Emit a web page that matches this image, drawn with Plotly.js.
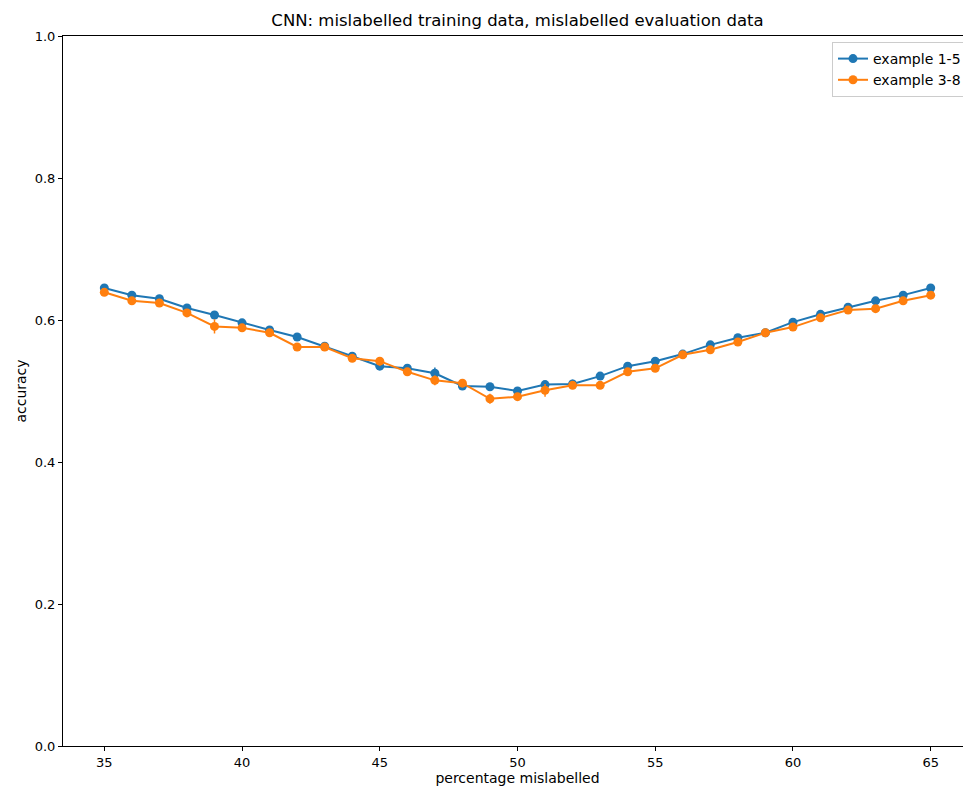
<!DOCTYPE html>
<html>
<head>
<meta charset="utf-8">
<script src="https://cdn.plot.ly/plotly-3.0.1.min.js"></script>
<style>
html,body{margin:0;padding:0;overflow:hidden;background:#fff;width:963px;height:787px;}
#chart{width:1010px;height:787px;}
</style>
</head>
<body>
<div id="chart"></div>
<script>
const xValues = [35,36,37,38,39,40,41,42,43,44,45,46,47,48,49,50,51,52,53,54,55,56,57,58,59,60,61,62,63,64,65];
const blueValues = [0.645,0.635,0.630,0.617,0.607,0.596,0.586,0.576,0.563,0.549,0.535,0.532,0.525,0.507,0.506,0.500,0.509,0.510,0.521,0.535,0.542,0.552,0.565,0.575,0.582,0.597,0.608,0.618,0.627,0.635,0.645];
const blueErrors = [0.003,0.002,0.002,0.002,0.003,0.002,0.002,0.002,0.002,0.002,0.003,0.003,0.008,0.002,0.002,0.002,0.003,0.006,0.003,0.002,0.002,0.003,0.002,0.002,0.002,0.002,0.002,0.002,0.002,0.002,0.002];
const orangeValues = [0.639,0.627,0.624,0.610,0.591,0.589,0.582,0.562,0.562,0.546,0.542,0.527,0.515,0.511,0.489,0.492,0.501,0.508,0.508,0.527,0.532,0.551,0.558,0.569,0.582,0.590,0.603,0.614,0.616,0.627,0.635];
const orangeErrors = [0.005,0.003,0.002,0.003,0.010,0.003,0.003,0.002,0.002,0.003,0.006,0.005,0.007,0.003,0.007,0.003,0.009,0.003,0.002,0.003,0.003,0.002,0.002,0.002,0.002,0.002,0.002,0.002,0.002,0.002,0.002];
const seriesNames = ['example 1-5','example 3-8'];
const colors = ['#1f77b4','#ff7f0e'];
const xTicks = [35,40,45,50,55,60,65];
const yTicks = [0,0.2,0.4,0.6,0.8,1.0];

function trace(y, err, name, color){
  return {
    x: xValues, y: y, name: name, type: 'scatter', mode: 'lines+markers',
    line: {color: color, width: 2},
    marker: {color: color, size: 9, symbol: 'circle'},
    error_y: {type: 'data', array: err, visible: true, color: color, thickness: 1.5, width: 0}
  };
}
const data = [
  trace(blueValues, blueErrors, seriesNames[0], colors[0]),
  trace(orangeValues, orangeErrors, seriesNames[1], colors[1])
];
const layout = {
  width: 1010, height: 787,
  margin: {l: 63, r: 38, t: 36, b: 41},
  paper_bgcolor: '#fff', plot_bgcolor: '#fff',
  font: {family: 'DejaVu Sans, sans-serif', size: 13, color: '#000'},
  title: {text: 'CNN: mislabelled training data, mislabelled evaluation data', font: {size: 16.5, color: '#000'},
          xref: 'paper', x: 0.5, xanchor: 'center', yref: 'container', y: 1 - 20/787, yanchor: 'middle'},
  xaxis: {range: [33.5, 66.5], tickvals: xTicks, ticktext: xTicks.map(String), showgrid: false, zeroline: false,
          showline: true, linecolor: '#000', linewidth: 1, mirror: true, ticks: 'outside', ticklen: 4, tickcolor: '#000',
          tickfont: {size: 13}, automargin: false,
          title: {text: 'percentage mislabelled', font: {size: 14}, standoff: 4}},
  yaxis: {range: [0, 1], tickvals: yTicks, ticktext: yTicks.map(v => v.toFixed(1)), showgrid: false, zeroline: false,
          showline: true, linecolor: '#000', linewidth: 1, mirror: true, ticks: 'outside', ticklen: 4, tickcolor: '#000',
          tickfont: {size: 13}, automargin: false,
          title: {text: 'accuracy', font: {size: 14}, standoff: 4}},
  showlegend: true,
  legend: {x: (832-63)/909, y: 1 - 6/710, xanchor: 'left', yanchor: 'top', bgcolor: '#fff',
           bordercolor: '#ccc', borderwidth: 1, font: {size: 14}, tracegroupgap: 0}
};
Plotly.newPlot('chart', data, layout, {displayModeBar: false, staticPlot: true});
</script>
</body>
</html>
